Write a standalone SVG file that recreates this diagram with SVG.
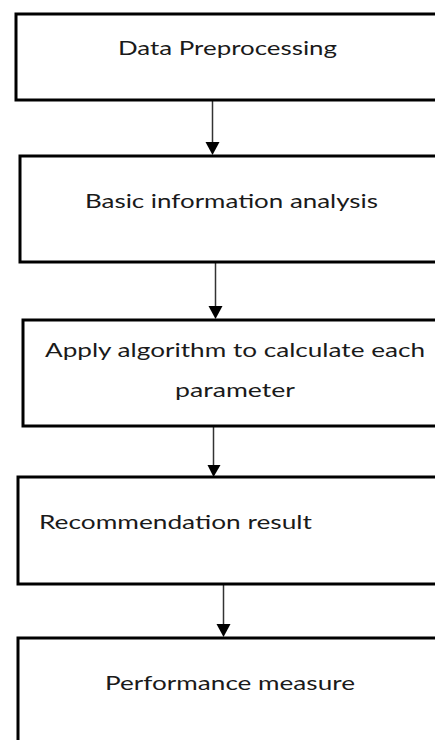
<svg xmlns="http://www.w3.org/2000/svg" width="435" height="740" viewBox="0 0 435 740">
<defs>
<style>
.box{fill:#fff;stroke:#000;stroke-width:3}
.lbl{font-family:Lato,"Liberation Sans",sans-serif;font-size:20px;fill:#1a1a1a}
.conn{stroke:#333;stroke-width:1.5;fill:none}
.head{fill:#000}
</style>
</defs>
<rect width="435" height="740" fill="#fff"/>
<g id="connectors">
<line class="conn" x1="212.5" y1="101" x2="212.5" y2="143"/>
<polygon class="head" points="205.5,142 219.5,142 212.5,155"/>
<line class="conn" x1="215.5" y1="263" x2="215.5" y2="307"/>
<polygon class="head" points="208.5,306 222.5,306 215.5,319"/>
<line class="conn" x1="213.5" y1="427" x2="213.5" y2="466"/>
<polygon class="head" points="207.5,465 220.5,465 213.5,477"/>
<line class="conn" x1="223.5" y1="585" x2="223.5" y2="625"/>
<polygon class="head" points="216.5,624 230.5,624 223.5,637"/>
</g>
<g id="node1">
<rect class="box" x="16" y="14" width="440" height="86"/>
<text class="lbl" x="118" y="55" textLength="219" lengthAdjust="spacingAndGlyphs">Data Preprocessing</text>
</g>
<g id="node2">
<rect class="box" x="20" y="156" width="440" height="106"/>
<text class="lbl" x="85" y="208" textLength="293" lengthAdjust="spacingAndGlyphs">Basic information analysis</text>
</g>
<g id="node3">
<rect class="box" x="23" y="320" width="440" height="106"/>
<text class="lbl" x="45" y="357" textLength="380" lengthAdjust="spacingAndGlyphs">Apply algorithm to calculate each</text>
<text class="lbl" x="175" y="397" textLength="120" lengthAdjust="spacingAndGlyphs">parameter</text>
</g>
<g id="node4">
<rect class="box" x="18" y="477" width="440" height="107"/>
<text class="lbl" x="39" y="529" textLength="273" lengthAdjust="spacingAndGlyphs">Recommendation result</text>
</g>
<g id="node5">
<rect class="box" x="18" y="638" width="440" height="120"/>
<text class="lbl" x="105" y="690" textLength="250" lengthAdjust="spacingAndGlyphs">Performance measure</text>
</g>
</svg>
